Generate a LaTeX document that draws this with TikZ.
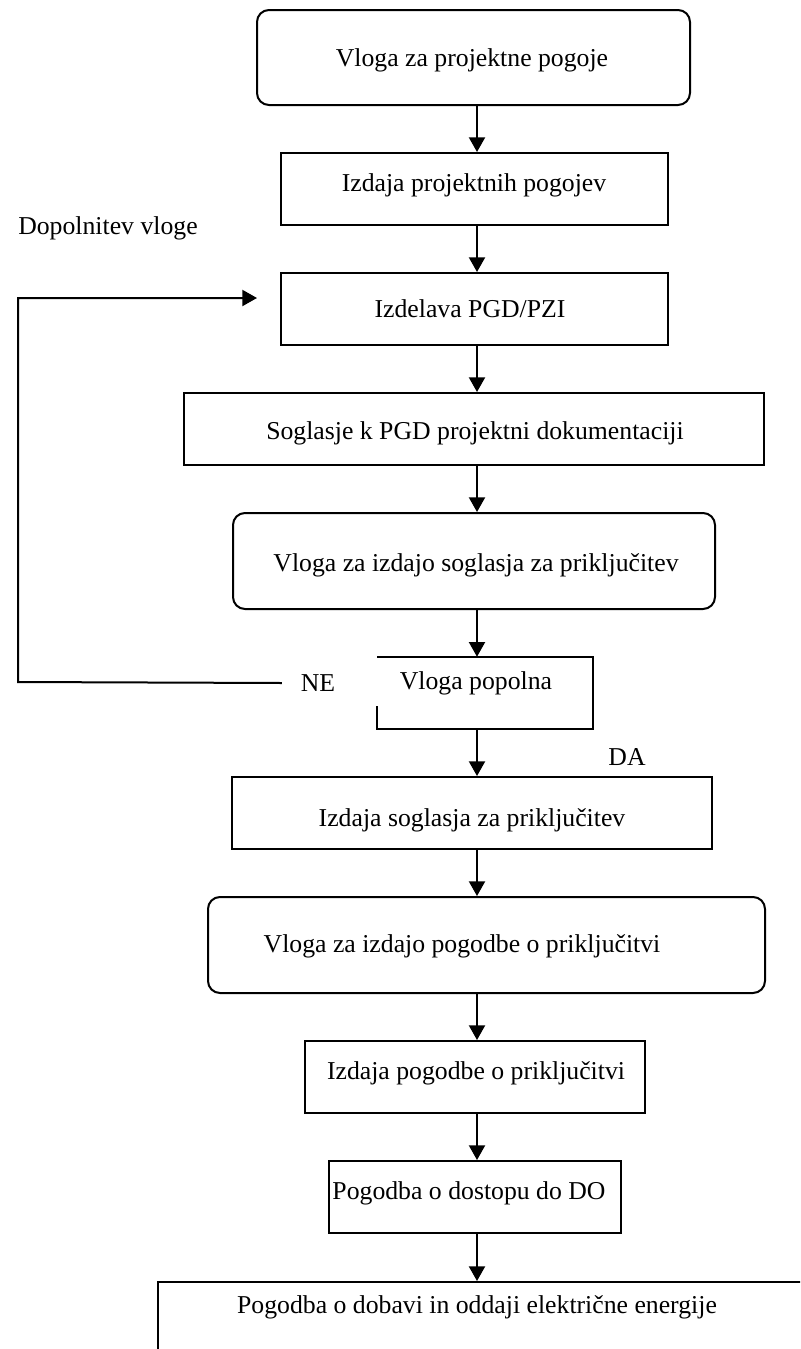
\documentclass[tikz,border=0pt]{standalone}
\usepackage{fontspec}
\setmainfont{Liberation Serif}
\usetikzlibrary{arrows.meta}
\begin{document}
\begin{tikzpicture}[x=0.75pt,y=-0.75pt,
  box/.style={draw, line width=1.5pt, inner sep=0pt},
  rbox/.style={box, rounded corners=9pt},
  nobox/.style={inner sep=0pt},
  txt/.style={font=\fontsize{19.3}{23}\selectfont, inner sep=0pt},
  arr/.style={line width=1.5pt, -{Triangle[length=11pt,width=12pt]}},
  ln/.style={line width=1.5pt}]
\useasboundingbox (0,0) rectangle (800,1349);
\clip (0,0) rectangle (800,1349);
\coordinate (ax) at (477,0);
% boxes
\node[rbox, minimum width=324.75pt, minimum height=71.25pt] (b1) at (473.5,57.5) {};
\node[box, minimum width=290.25pt, minimum height=54pt] (b2) at (474.5,189) {};
\node[box, minimum width=290.25pt, minimum height=54pt] (b3) at (474.5,309) {};
\node[box, minimum width=435pt, minimum height=54pt] (b4) at (474,429) {};
\node[rbox, minimum width=361.5pt, minimum height=72pt] (b5) at (474,561) {};
\node[nobox, minimum width=162pt, minimum height=54pt] (b6) at (485,693) {};
\node[box, minimum width=360pt, minimum height=54pt] (b7) at (472,813) {};
\node[rbox, minimum width=417.75pt, minimum height=72pt] (b8) at (486.5,945) {};
\node[box, minimum width=255pt, minimum height=54pt] (b9) at (475,1077) {};
\node[box, minimum width=219pt, minimum height=54pt] (b10) at (475,1197) {};
\node[box, minimum width=556.5pt, minimum height=88.5pt] (b11) at (529,1341) {};
\draw[ln] ([yshift=17.25pt]b6.south west) -- (b6.south west) -- (b6.south east) -- (b6.north east) -- (b6.north west);
% texts
\node[txt] (t1) at (472,60) {Vloga za projektne pogoje};
\node[txt] (t2) at (474,185) {Izdaja projektnih pogojev};
\node[txt] (t3) at (470,309) {Izdelava PGD/PZI};
\node[txt] (t4) at (475,433) {Soglasje k PGD projektni dokumentaciji};
\node[txt] (t5) at (476,565) {Vloga za izdajo soglasja za priključitev};
\node[txt] (t6) at (476,683) {Vloga popolna};
\node[txt] (t7) at (472,820) {Izdaja soglasja za priključitev};
\node[txt] (t8) at (462,946) {Vloga za izdajo pogodbe o priključitvi};
\node[txt] (t9) at (476,1073) {Izdaja pogodbe o priključitvi};
\node[txt] (t10) at (469,1193) {Pogodba o dostopu do DO};
\node[txt] (t11) at (477,1307) {Pogodba o dobavi in oddaji električne energije};
\node[txt, anchor=west] (dop) at (18,228) {Dopolnitev vloge};
\node[txt] (ne) at (318,683) {NE};
\node[txt] (da) at (627,757) {DA};
% arrows
\draw[arr] (b1.south -| ax) -- (b2.north -| ax);
\draw[arr] (b2.south -| ax) -- (b3.north -| ax);
\draw[arr] (b3.south -| ax) -- (b4.north -| ax);
\draw[arr] (b4.south -| ax) -- (b5.north -| ax);
\draw[arr] (b5.south -| ax) -- (b6.north -| ax);
\draw[arr] (b6.south -| ax) -- (b7.north -| ax);
\draw[arr] (b7.south -| ax) -- (b8.north -| ax);
\draw[arr] (b8.south -| ax) -- (b9.north -| ax);
\draw[arr] (b9.south -| ax) -- (b10.north -| ax);
\draw[arr] (b10.south -| ax) -- (b11.north -| ax);
% feedback
\coordinate (fbStart) at ([xshift=-14pt]ne.west);
\coordinate (fbCorner) at (18,682);
\coordinate (fbEnd) at (257,298);
\draw[arr] (fbStart) -- (fbCorner) |- (fbEnd);
\end{tikzpicture}
\end{document}
